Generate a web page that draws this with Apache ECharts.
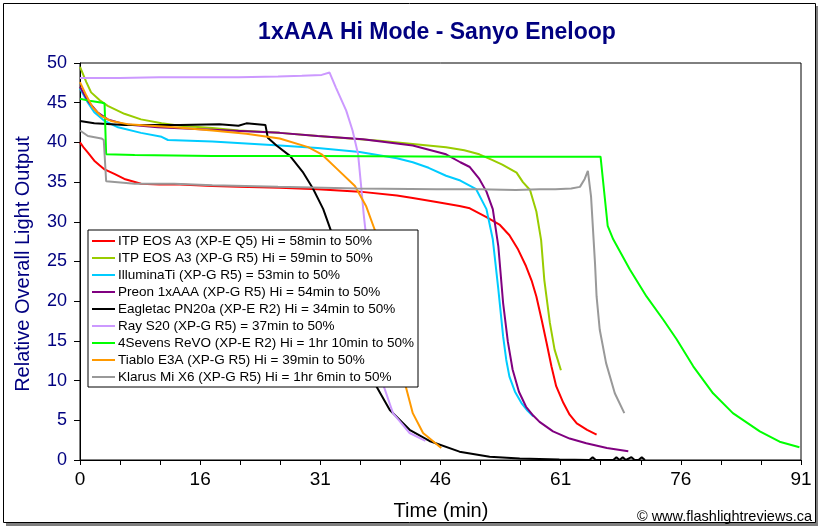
<!DOCTYPE html>
<html>
<head>
<meta charset="utf-8">
<script src="https://cdn.jsdelivr.net/npm/echarts@6/dist/echarts.min.js"></script>
<style>
html,body{margin:0;padding:0;background:#fff;}
#chart{width:822px;height:530px;}
</style>
</head>
<body>
<div id="chart"></div>
<script>
// ---- Data (time in minutes, relative output) ----
const xTickLabels = ['0','16','31','46','61','76','91'];
const X_MAX = 91;
const seriesNames = [
  'ITP EOS A3 (XP-E Q5) Hi = 58min to 50%',
  'ITP EOS A3 (XP-G R5) Hi = 59min to 50%',
  'IlluminaTi (XP-G R5) = 53min to 50%',
  'Preon 1xAAA (XP-G R5) Hi = 54min to 50%',
  'Eagletac PN20a (XP-E R2) Hi = 34min to 50%',
  'Ray S20 (XP-G R5) = 37min to 50%',
  '4Sevens ReVO (XP-E R2) Hi = 1hr 10min to 50%',
  'Tiablo E3A (XP-G R5) Hi = 39min to 50%',
  'Klarus Mi X6 (XP-G R5) Hi = 1hr 6min to 50%'
];
const seriesColors = ['#FF0000','#99CC00','#00CCFF','#800080','#000000','#CC99FF','#00FF00','#FF9900','#999999'];

const itpQ5 = [[0,40.0],[0.5,39.3],[1.0,38.7],[1.8,37.7],[2.5,37.1],[3.1,36.6],[4.4,36.0],[5.6,35.4],[7.7,34.8],[10,34.7],[12.6,34.7],[16.7,34.5],[20,34.4],[25.2,34.3],[30,34.1],[35.3,33.8],[40,33.3],[42,33.0],[45,32.5],[47.9,32.0],[49.2,31.7],[51.3,30.6],[53,29.6],[54.2,28.3],[55.3,26.5],[56.3,24.4],[57,22.6],[57.6,20.6],[58.3,17.5],[58.9,14.7],[59.5,11.8],[60.1,9.3],[61,7.2],[61.8,5.7],[62.7,4.6],[64,3.8],[65.2,3.2]];
const itpR5 = [[0,49.5],[0.2,49.3],[0.8,47.6],[1.4,46.3],[2.5,45.3],[3.5,44.6],[5.6,43.6],[7.7,42.9],[10.3,42.4],[12.6,42.1],[16.7,41.8],[20,41.5],[25.2,41.2],[30,40.8],[37.8,40.2],[42,39.8],[46.2,39.4],[48.5,39.0],[50.4,38.5],[52,37.8],[53.3,37.2],[55.1,36.2],[55.9,35.0],[56.8,34.0],[57.6,31.3],[58.2,27.7],[58.6,22.7],[59.3,17.3],[59.9,13.9],[60.7,11.3]];
const illuminati = [[0,46.8],[1.0,45.0],[1.8,43.8],[3.1,42.7],[4.8,41.9],[7.7,41.2],[10.3,40.7],[11.1,40.3],[16.7,40.1],[25.2,39.6],[30,39.3],[35.3,38.8],[40,38.0],[42,37.5],[44,36.8],[46.2,35.8],[48,35.2],[50,34.1],[51.3,31.6],[52.1,27.8],[52.8,21.5],[53.4,15.6],[53.8,12.6],[54.2,10.5],[54.9,8.6],[55.7,7.2],[56.5,6.2],[57.2,5.5]];
const preon = [[0,47.0],[1.0,45.2],[2.2,43.8],[3.5,42.9],[5.6,42.3],[9.8,41.9],[16.7,41.6],[25.2,41.2],[30,40.8],[35.7,40.4],[42,39.6],[46.2,38.5],[48,37.5],[49.2,36.9],[50.4,35.4],[51.3,33.8],[52.1,31.6],[52.8,26.9],[53.4,19.8],[54.0,14.9],[54.6,11.4],[55.4,8.6],[56.3,6.7],[57.2,5.6],[58,4.8],[59.7,3.6],[61.8,2.7],[63.9,2.1],[66.5,1.5],[69.2,1.1]];
const eagletac = [[0,42.7],[1.8,42.4],[5.6,42.2],[12.6,42.2],[17.6,42.3],[20,42.1],[21,42.4],[23.4,42.2],[23.7,40.6],[24.8,39.6],[26.5,38.3],[28.1,36.3],[29.4,34.2],[30.7,31.6],[31.7,28.8],[32.5,25.5],[33.3,22.5],[34.2,20.0],[35.3,15.5],[36.3,12.0],[37.4,9.3],[39.1,6.3],[41.6,3.8],[44.1,2.4],[47.9,1.05],[51.7,0.42],[55.5,0.2],[60.5,0.05],[64.3,0],[64.7,0.35],[65.1,0],[67.3,0],[67.7,0.35],[68.1,0],[68.5,0.35],[68.9,0],[69.6,0.35],[70.0,0],[70.5,0],[70.9,0.35],[71.3,0]];
const rayS20 = [[0,48.1],[5,48.1],[10,48.2],[15,48.2],[20,48.2],[25,48.3],[28,48.4],[30.5,48.5],[31.5,48.8],[32.3,46.9],[33.6,44.0],[34.4,41.5],[35.1,38.5],[35.5,34.3],[35.8,31.0],[36.1,28.3],[36.6,22.0],[37.1,16.0],[37.6,12.5],[38.2,9.7],[39.5,5.9],[41.6,3.4],[43.6,2.4]];
const revo = [[0,45.5],[1.4,45.2],[2.8,45.0],[3.1,44.9],[3.3,38.5],[6.9,38.4],[16.7,38.3],[30,38.3],[50,38.2],[65.7,38.2],[66.6,29.5],[67.3,27.8],[69.4,24.0],[71.5,20.6],[73.6,17.7],[75.3,15.2],[77.4,11.8],[79.9,8.4],[82.4,5.9],[85.8,3.6],[88.3,2.3],[90.8,1.6]];
const tiablo = [[0,47.6],[0.8,45.9],[1.6,44.4],[2.7,43.3],[3.9,42.7],[6.0,42.3],[11.9,41.9],[16.7,41.5],[21.0,41.1],[25.2,40.5],[28.8,39.4],[30.5,38.5],[32.5,36.6],[34.7,34.5],[36.1,32.0],[37.2,29.0],[38.2,25.0],[39.2,20.0],[40.1,15.0],[40.6,12.0],[41.0,9.7],[42.0,5.9],[43.3,3.4],[45.6,1.5]];
const klarus = [[0,41.5],[1.0,40.8],[2.7,40.5],[3.0,40.3],[3.3,35.1],[6.9,34.8],[11.9,34.8],[16.7,34.6],[25,34.4],[35,34.2],[45,34.1],[50.4,34.1],[55,34.0],[58,34.1],[60,34.1],[62,34.2],[63.1,34.4],[63.7,35.4],[64.1,36.4],[64.5,33.2],[65.0,24.8],[65.2,20.6],[65.6,16.4],[66.4,12.2],[67.5,8.4],[68.7,5.9]];

const allData = [itpQ5, itpR5, illuminati, preon, eagletac, rayS20, revo, tiablo, klarus];

const chart = echarts.init(document.getElementById('chart'), null, {renderer:'canvas'});
const FONT = 'Arial, "Liberation Sans", sans-serif';

chart.setOption({
  animation: false,
  backgroundColor: '#fff',
  grid: {left: 80, top: 63, right: 21, bottom: 70, show: true, borderColor: '#000', borderWidth: 1},
  xAxis: {
    type: 'value', min: 0, max: X_MAX, interval: X_MAX/6,
    axisLine: {show: true, lineStyle: {color: '#000', width: 1}},
    axisTick: {show: true, length: 5, lineStyle: {color: '#000'}},
    minorTick: {show: true, splitNumber: 3, length: 5, lineStyle: {color: '#000'}},
    splitLine: {show: false},
    axisLabel: {
      color: '#000', fontFamily: FONT, fontSize: 19, margin: 10,
      formatter: function (v) { const k = Math.round(v / (X_MAX/6)); return xTickLabels[k] !== undefined ? xTickLabels[k] : ''; }
    }
  },
  yAxis: {
    type: 'value', min: 0, max: 50, interval: 5,
    axisLine: {show: true, lineStyle: {color: '#000', width: 1}},
    axisTick: {show: true, length: 6, lineStyle: {color: '#000'}},
    splitLine: {show: false},
    axisLabel: {color: '#000080', fontFamily: FONT, fontSize: 18, margin: 13}
  },
  legend: {
    orient: 'vertical', left: 88, top: 230, z: 20,
    backgroundColor: '#fff', borderColor: '#000', borderWidth: 1,
    padding: [4, 4, 3, 4], itemWidth: 23, itemHeight: 2, itemGap: 3,
    icon: 'rect',
    textStyle: {fontFamily: FONT, fontSize: 13.5, lineHeight: 14, color: '#000', padding: [0,0,0,-2]},
    data: seriesNames
  },
  series: allData.map((d, i) => ({
    name: seriesNames[i], type: 'line', data: d, symbol: 'none', showSymbol: false,
    lineStyle: {color: seriesColors[i], width: 2}, itemStyle: {color: seriesColors[i]},
    z: 2
  })),
  graphic: [
    {type: 'rect', z: -10, silent: true, shape: {x: 6, y: 6, width: 812, height: 520}, style: {fill: '#7f7f7f'}},
    {type: 'rect', z: -9, silent: true, shape: {x: 3.5, y: 3.5, width: 812, height: 519}, style: {fill: '#fff', stroke: '#000', lineWidth: 1}},
    {type: 'text', silent: true, style: {text: '1xAAA Hi Mode - Sanyo Eneloop', x: 437, y: 33, textAlign: 'center', textVerticalAlign: 'middle', font: 'bold 23px ' + FONT, fill: '#000080'}},
    {type: 'text', silent: true, style: {text: 'Relative Overall Light Output', x: 0, y: 0, textAlign: 'center', textVerticalAlign: 'middle', font: '20px ' + FONT, fill: '#000080'}, x: 23, y: 264, rotation: Math.PI/2},
    {type: 'text', silent: true, style: {text: 'Time (min)', x: 441, y: 511, textAlign: 'center', textVerticalAlign: 'middle', font: '20px ' + FONT, fill: '#000'}},
    {type: 'text', silent: true, style: {text: '\u00A9 www.flashlightreviews.ca', x: 812, y: 517, textAlign: 'right', textVerticalAlign: 'middle', font: '14.5px ' + FONT, fill: '#000'}}
  ]
});
</script>
</body>
</html>
